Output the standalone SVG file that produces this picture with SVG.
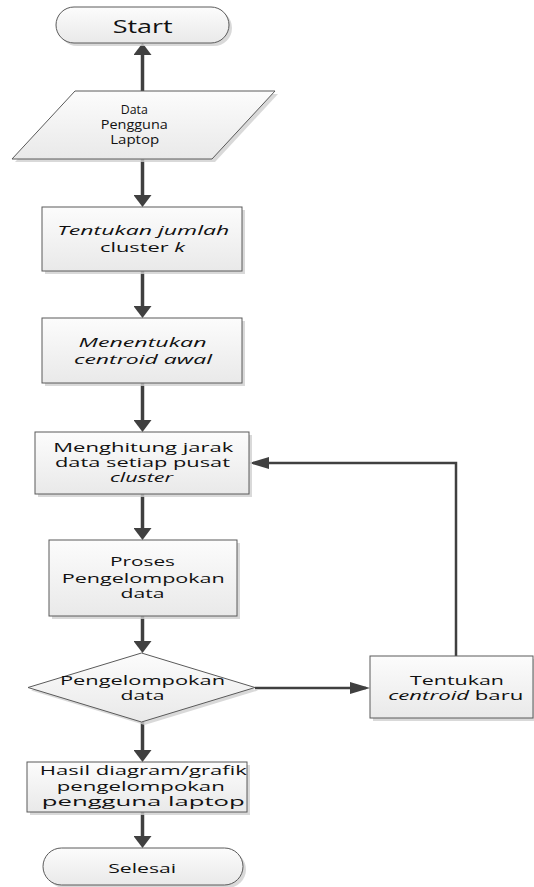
<svg xmlns="http://www.w3.org/2000/svg" width="534" height="887" viewBox="0 0 534 887">
<defs>
<linearGradient id="g" x1="0" y1="0" x2="0" y2="1">
<stop offset="0" stop-color="#fcfcfc"/>
<stop offset="1" stop-color="#e9e9e9"/>
</linearGradient>
<marker id="av" viewBox="0 0 12 18" refX="8" refY="9" markerWidth="12" markerHeight="18" markerUnits="userSpaceOnUse" orient="auto">
<path d="M0,0 L12,9 L0,18 z" fill="#404040"/>
</marker>
<marker id="ah" viewBox="0 0 20 12" refX="16" refY="6" markerWidth="20" markerHeight="12" markerUnits="userSpaceOnUse" orient="auto">
<path d="M0,0 L20,6 L0,12 z" fill="#404040"/>
</marker>
</defs>
<style>
.s{fill:url(#g);stroke:#5a5a5a;stroke-width:1}
.sh{fill:#cfcfcf;opacity:0.8}
text{font-family:"Open Sans","Noto Sans",sans-serif;font-size:13px;fill:#111111;text-anchor:middle}
.i{font-style:italic}
.cv{fill:none;stroke:#404040;stroke-width:3.5;marker-end:url(#av)}
.ch{fill:none;stroke:#404040;stroke-width:2.5;marker-end:url(#ah)}
</style>
<rect width="534" height="887" fill="#ffffff"/>

<g id="connectors">
<path class="cv" d="M142.5,91 V47"/>
<path class="cv" d="M142.5,159 V203"/>
<path class="cv" d="M142.5,271 V314"/>
<path class="cv" d="M142.5,383 V428"/>
<path class="cv" d="M142.5,494 V536"/>
<path class="cv" d="M142.5,616 V649"/>
<path class="cv" d="M142.5,722 V758"/>
<path class="cv" d="M142.5,812 V844"/>
<path class="ch" d="M255,688 H366"/>
<path class="ch" d="M456,656 V463 H253"/>
</g>

<g id="start">
<rect class="sh" x="59" y="10" width="173" height="36" rx="18"/>
<rect class="s" x="56" y="7" width="173" height="36" rx="18"/>
<text x="142.7" y="33" style="font-size:18px" textLength="60" lengthAdjust="spacingAndGlyphs">Start</text>
</g>

<g id="data">
<polygon class="sh" points="78,94 278,94 215,162 15,162"/>
<polygon class="s" points="75,91 275,91 212,159 12,159"/>
<text x="134.3" y="114" textLength="27" lengthAdjust="spacingAndGlyphs">Data</text>
<text x="134.3" y="129" textLength="67" lengthAdjust="spacingAndGlyphs">Pengguna</text>
<text x="134.7" y="144" textLength="49" lengthAdjust="spacingAndGlyphs">Laptop</text>
</g>

<g id="jumlah">
<rect class="sh" x="45" y="210" width="200" height="64"/>
<rect class="s" x="42" y="207" width="200" height="64"/>
<text class="i" x="143.3" y="235" textLength="172" lengthAdjust="spacingAndGlyphs">Tentukan jumlah</text>
<text x="142.5" y="252" textLength="85" lengthAdjust="spacingAndGlyphs">cluster <tspan class="i">k</tspan></text>
</g>

<g id="centroid-awal">
<rect class="sh" x="45" y="321" width="200" height="65"/>
<rect class="s" x="42" y="318" width="200" height="65"/>
<text class="i" x="142.5" y="347" textLength="128" lengthAdjust="spacingAndGlyphs">Menentukan</text>
<text class="i" x="143" y="364" textLength="138" lengthAdjust="spacingAndGlyphs">centroid awal</text>
</g>

<g id="jarak">
<rect class="sh" x="38" y="435" width="214" height="62"/>
<rect class="s" x="35" y="432" width="214" height="62"/>
<text x="143.3" y="452" textLength="180" lengthAdjust="spacingAndGlyphs">Menghitung jarak</text>
<text x="142.5" y="467" textLength="175" lengthAdjust="spacingAndGlyphs">data setiap pusat</text>
<text class="i" x="141.5" y="482" textLength="63" lengthAdjust="spacingAndGlyphs">cluster</text>
</g>

<g id="proses">
<rect class="sh" x="52" y="543" width="188" height="76"/>
<rect class="s" x="49" y="540" width="188" height="76"/>
<text x="142.5" y="566" textLength="65" lengthAdjust="spacingAndGlyphs">Proses</text>
<text x="143.3" y="582.5" textLength="163" lengthAdjust="spacingAndGlyphs">Pengelompokan</text>
<text x="142.5" y="597.5" textLength="44" lengthAdjust="spacingAndGlyphs">data</text>
</g>

<g id="decision">
<polygon class="sh" points="144.5,656 258,690.5 144.5,725 31,690.5"/>
<polygon class="s" points="141.5,653 255,687.5 141.5,722 28,687.5"/>
<text x="142.5" y="685" textLength="165" lengthAdjust="spacingAndGlyphs">Pengelompokan</text>
<text x="142.5" y="700" textLength="44" lengthAdjust="spacingAndGlyphs">data</text>
</g>

<g id="hasil">
<rect class="sh" x="30" y="765" width="220" height="50"/>
<rect class="s" x="27" y="762" width="220" height="50"/>
<text x="143.3" y="774.5" textLength="207" lengthAdjust="spacingAndGlyphs">Hasil diagram/grafik</text>
<text x="140.8" y="790.5" textLength="168" lengthAdjust="spacingAndGlyphs">pengelompokan</text>
<text x="143.3" y="806" textLength="203" lengthAdjust="spacingAndGlyphs">pengguna laptop</text>
</g>

<g id="selesai">
<rect class="sh" x="46" y="851" width="200" height="37" rx="18.5"/>
<rect class="s" x="43" y="848" width="200" height="37" rx="18.5"/>
<text x="142.2" y="873" textLength="68" lengthAdjust="spacingAndGlyphs">Selesai</text>
</g>

<g id="centroid-baru">
<rect class="sh" x="373" y="659" width="163" height="62"/>
<rect class="s" x="370" y="656" width="163" height="62"/>
<text x="457" y="685" textLength="94" lengthAdjust="spacingAndGlyphs">Tentukan</text>
<text x="455.8" y="700" textLength="135" lengthAdjust="spacingAndGlyphs"><tspan class="i">centroid</tspan> baru</text>
</g>
</svg>
